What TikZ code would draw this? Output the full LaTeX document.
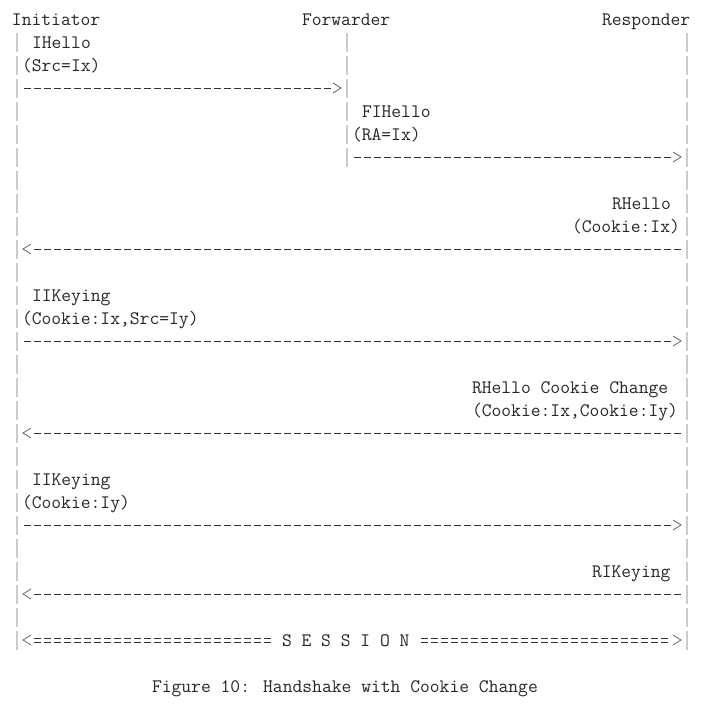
\documentclass[tikz,border=0pt]{standalone}
\usepackage{fontspec}
\usetikzlibrary{calc}
\newcommand\tx[4]{\node[txt] (#1) at (12+10*#2, 25.5+23*#3) {#4};}
% right-pointing message: row, from lifeline, to lifeline
\newcommand\rmsg[3]{%
  \draw[dsh] ($(#2#1)+(6.5,0)$) -- ($(#3#1)+(-16.5,0)$);
  \draw[chev] ($(#3#1)+(-14,-5)$) -- ($(#3#1)+(-6,0)$) -- ($(#3#1)+(-14,5)$);}
% left-pointing message: row, from lifeline (right), to lifeline (left)
\newcommand\lmsg[3]{%
  \draw[dsh] ($(#2#1)+(-6.5,0)$) -- ($(#3#1)+(16.5,0)$);
  \draw[chev] ($(#3#1)+(14,-5)$) -- ($(#3#1)+(6,0)$) -- ($(#3#1)+(14,5)$);}
\begin{document}
\begin{tikzpicture}[x=0.75pt,y=-0.75pt,
  txt/.style={anchor=base west, inner sep=0pt, outer sep=0pt, text=black!85,
    font=\fontsize{14.286pt}{17pt}\selectfont\ttfamily},
  life/.style={draw=black!20, line width=1.2pt, dash pattern=on 14.25pt off 3pt},
  dsh/.style={draw=black!80, line width=0.65pt, dash pattern=on 5.25pt off 2.25pt},
  chev/.style={draw=black!60, line width=0.6pt, line join=miter},
]
\useasboundingbox[fill=white] (0,0) rectangle (702,707);
\foreach \r in {0,...,29}{
  \coordinate (I\r) at (17,19+23*\r);
  \coordinate (F\r) at (347,19+23*\r);
  \coordinate (R\r) at (687,19+23*\r);
}
% headers
\tx{hI}{0}{0}{Initiator}
\tx{hF}{29}{0}{Forwarder}
\tx{hR}{59}{0}{Responder}
% lifelines
\coordinate (Itop) at ($(I1)+(0,-9.5)$);
\coordinate (Ibot) at ($(I27)+(0,9.5)$);
\coordinate (Ftop) at ($(F1)+(0,-9.5)$);
\coordinate (Fbot) at ($(F6)+(0,9.5)$);
\coordinate (Rtop) at ($(R1)+(0,-9.5)$);
\coordinate (Rbot) at ($(R27)+(0,9.5)$);
\draw[life] (Itop) -- (Ibot);
\draw[life] (Ftop) -- (Fbot);
\draw[life] (Rtop) -- (Rbot);
% labels
\tx{m1a}{2}{1}{IHello}
\tx{m1b}{1}{2}{(Src=Ix)}
\tx{m2a}{35}{4}{FIHello}
\tx{m2b}{34}{5}{(RA=Ix)}
\tx{m3a}{60}{8}{RHello}
\tx{m3b}{56}{9}{(Cookie:Ix)}
\tx{m4a}{2}{12}{IIKeying}
\tx{m4b}{1}{13}{(Cookie:Ix,Src=Iy)}
\tx{m5a}{46}{16}{RHello Cookie Change}
\tx{m5b}{46}{17}{(Cookie:Ix,Cookie:Iy)}
\tx{m6a}{2}{20}{IIKeying}
\tx{m6b}{1}{21}{(Cookie:Iy)}
\tx{m7a}{58}{24}{RIKeying}
\tx{ses}{27}{27}{S E S S I O N}
\tx{cap}{14}{29}{Figure 10: Handshake with Cookie Change}
% messages
\rmsg{3}{I}{F}
\rmsg{6}{F}{R}
\lmsg{10}{R}{I}
\rmsg{14}{I}{R}
\lmsg{18}{R}{I}
\rmsg{22}{I}{R}
\lmsg{25}{R}{I}
% session
\draw[dsh] ($(I27)+(16.5,-2)$) -- ($(ses.west|-I27)+(-11.5,-2)$);
\draw[dsh] ($(I27)+(16.5,2)$) -- ($(ses.west|-I27)+(-11.5,2)$);
\draw[dsh] ($(ses.east|-R27)+(11.5,-2)$) -- ($(R27)+(-16.5,-2)$);
\draw[dsh] ($(ses.east|-R27)+(11.5,2)$) -- ($(R27)+(-16.5,2)$);
\draw[chev] ($(I27)+(14,-5)$) -- ($(I27)+(6,0)$) -- ($(I27)+(14,5)$);
\draw[chev] ($(R27)+(-14,-5)$) -- ($(R27)+(-6,0)$) -- ($(R27)+(-14,5)$);
\end{tikzpicture}
\end{document}
